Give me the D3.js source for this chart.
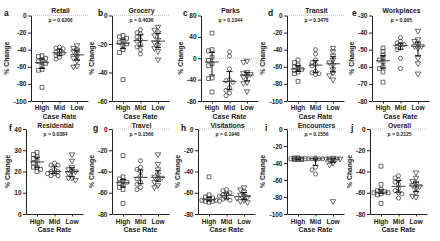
<!DOCTYPE html>
<html><head><meta charset="utf-8">
<script src="https://cdn.jsdelivr.net/npm/d3@7"></script>
<style>
body{margin:0;background:#fff}
svg{display:block;font-family:"Liberation Sans",Arial,sans-serif;font-weight:bold}
</style>
</head><body>
<svg id="chart" width="440" height="241"></svg>
<script>
// ---------------- data ----------------
const categories = ["High", "Mid", "Low"];
const panelLetters = ["a","b","c","d","e","f","g","h","i","j"];
const panelTitles = ["Retail","Grocery","Parks","Transit","Workplaces","Residential","Travel","Visitations","Encounters","Overall"];
const pValues = ["0.0206","0.4036","0.1344","0.3476","0.005","0.0384","0.1566","0.1946","0.1556","0.2125"];
const yDomains = [[-100,0],[-60,0],[-80,80],[-100,0],[-80,-30],[0,40],[-80,0],[-80,0],[-100,0],[-80,0]];
const yTicks = [
  [0,-20,-40,-60,-80,-100],
  [0,-20,-40,-60],
  [80,40,0,-40,-80],
  [0,-20,-40,-60,-80,-100],
  [-30,-40,-50,-60,-70,-80],
  [0,10,20,30,40],
  [0,-20,-40,-60,-80],
  [0,-20,-40,-60,-80],
  [0,-20,-40,-60,-80,-100],
  [0,-20,-40,-60,-80]
];

const retailHigh = [-47,-48,-50,-53,-54,-56,-59,-63,-64,-84];
const retailMid  = [-37,-38,-39,-41,-43,-44,-45,-47,-49,-51];
const retailLow  = [-35,-38,-40,-42,-44,-48,-50,-53,-59,-60];

const groceryHigh = [-14,-15,-16,-18,-19,-20,-21,-24,-26,-45];
const groceryMid  = [-10,-12,-13,-15,-17,-18,-20,-22,-24,-27];
const groceryLow  = [-8,-10,-12,-14,-17,-19,-21,-23,-25,-31];

const parksHigh = [47,16,14,2,-4,-10,-14,-37,-38,-63];
const parksMid  = [12,4,-20,-40,-42,-45,-55,-60,-65,-70];
const parksLow  = [-5,-7,-26,-28,-30,-33,-35,-45,-47,-62];

const transitHigh = [-52,-55,-58,-60,-62,-63,-64,-66,-68,-77];
const transitMid  = [-40,-45,-52,-55,-57,-59,-65,-67,-68,-69];
const transitLow  = [-38,-42,-47,-52,-55,-58,-63,-67,-70,-75];

const workHigh = [-49,-51,-53,-55,-56,-57,-60,-61,-63,-69];
const workMid  = [-43,-45,-46,-47,-47,-48,-49,-50,-55,-61];
const workLow  = [-39,-44,-45,-47,-48,-48,-49,-55,-58,-64];

const residHigh = [29,28,27,26,25,24,22,22,21,20];
const residMid  = [24,23,23,21,20,20,19,19,18,18];
const residLow  = [28,25,22,21,20,20,19,17,17,16];

const travelHigh = [-25,-45,-47,-49,-50,-51,-53,-55,-57,-70];
const travelMid  = [-30,-36,-38,-40,-44,-47,-50,-52,-55,-57];
const travelLow  = [-24,-33,-38,-43,-45,-46,-47,-50,-53,-55];

const visitHigh = [-45,-62,-64,-65,-66,-67,-67,-68,-68,-69];
const visitMid  = [-57,-58,-60,-61,-62,-63,-65,-66,-67,-68];
const visitLow  = [-55,-57,-59,-62,-63,-64,-65,-67,-68,-69];

const encHigh = [-34,-34,-35,-35,-35,-35,-35,-36,-36,-36];
const encMid  = [-34,-35,-35,-35,-35,-35,-36,-45,-48,-53];
const encLow  = [-34,-35,-35,-35,-35,-36,-37,-40,-42,-85];

const overallHigh = [-35,-52,-57,-58,-59,-60,-60,-61,-62,-70];
const overallMid  = [-44,-46,-48,-50,-52,-56,-58,-60,-61,-65];
const overallLow  = [-41,-46,-49,-52,-53,-54,-56,-60,-63,-64];

const panelSeries = [
  [retailHigh, retailMid, retailLow],
  [groceryHigh, groceryMid, groceryLow],
  [parksHigh, parksMid, parksLow],
  [transitHigh, transitMid, transitLow],
  [workHigh, workMid, workLow],
  [residHigh, residMid, residLow],
  [travelHigh, travelMid, travelLow],
  [visitHigh, visitMid, visitLow],
  [encHigh, encMid, encLow],
  [overallHigh, overallMid, overallLow]
];

// ---------------- layout ----------------
const rows = [
  {top:15.5, bottom:101, labY:110, caseY:118.5, titleY:13, pY:21.5, letterY:16},
  {top:129,  bottom:214, labY:223.5, caseY:232, titleY:128, pY:136, letterY:131}
];
const layout = [
  {x:31,row:0,lx:4},{x:112,row:0,lx:98},{x:201,row:0,lx:183},{x:287,row:0,lx:268},{x:372,row:0,lx:352},
  {x:26,row:1,lx:9},{x:112,row:1,lx:93},{x:198,row:1,lx:181},{x:287,row:1,lx:265},{x:370,row:1,lx:351}
];
const plotW = 57;
const ink = "#222";

const svg = d3.select("#chart");

const symbolGens = [
  d3.symbol().type(d3.symbolSquare).size(15),
  d3.symbol().type(d3.symbolCircle).size(13),
  d3.symbol().type(d3.symbolTriangle).size(13)
];

// deterministic GraphPad-like scatter: spread only overlapping points, within a narrow band
function swarm(vals, cx, y) {
  const placed = [];
  const sorted = vals.slice().sort((a,b)=>b-a);
  const offs = [0,-3.5,3.5,-7,7];
  sorted.forEach(v => {
    const py = y(v);
    let best = offs[0], bestD = -1;
    for (const o of offs) {
      const d = placed.length ? d3.min(placed, q => Math.hypot(q.x-(cx+o), q.y-py)) : 99;
      if (d >= 3.4) { best = o; bestD = 99; break; }
      if (d > bestD) { bestD = d; best = o; }
    }
    placed.push({x:cx+best, y:py});
  });
  return placed;
}

panelSeries.forEach((series, i) => {
  const L = layout[i], R = rows[L.row];
  const y = d3.scaleLinear().domain(yDomains[i]).range([R.bottom, R.top]);
  const x = d3.scalePoint().domain(categories).range([L.x, L.x+plotW]).padding(0.63);
  const g = svg.append("g");

  // zero reference line
  const dom = yDomains[i];
  if (dom[0] < 0 && dom[1] >= 0) {
    g.append("line").attr("x1", L.x).attr("x2", L.x+plotW)
      .attr("y1", y(0)).attr("y2", y(0))
      .attr("stroke", "#aaa").attr("stroke-width", 0.7).attr("stroke-dasharray", "1,1");
  }

  // y axis
  const ya = g.append("g").attr("transform", `translate(${L.x},0)`)
    .call(d3.axisLeft(y).tickValues(yTicks[i]).tickSize(3).tickSizeOuter(0).tickPadding(1.5).tickFormat(d => String(d)));
  ya.selectAll("text").attr("font-size", 6.5).attr("fill", ink).attr("font-weight", "bold");
  ya.selectAll("line,path").attr("stroke", ink).attr("stroke-width", 1);

  // x axis
  const xa = g.append("g").attr("transform", `translate(0,${R.bottom})`)
    .call(d3.axisBottom(x).tickSize(2.5).tickSizeOuter(0).tickPadding(2));
  xa.selectAll("text").remove();
  xa.selectAll("line,path").attr("stroke", ink).attr("stroke-width", 1);

  g.selectAll(".cat").data(categories).join("text")
    .attr("x", d => x(d)).attr("y", R.labY)
    .attr("text-anchor", "middle").attr("font-size", 6.6).attr("fill", ink).text(d => d);

  g.append("text").attr("x", L.x + plotW/2).attr("y", R.caseY)
    .attr("text-anchor", "middle").attr("font-size", 7).attr("fill", ink).text("Case Rate");

  // y label
  let maxW = 0;
  ya.selectAll("text").each(function(){ maxW = Math.max(maxW, this.getComputedTextLength()); });
  const ly = (R.top + R.bottom)/2;
  const lx = L.x - 3 - 1.5 - maxW - 4;
  g.append("text").attr("transform", `translate(${lx},${ly}) rotate(-90)`)
    .attr("text-anchor", "middle").attr("font-size", 6.8).attr("fill", ink).text("% Change");

  // letter, title, p
  g.append("text").attr("x", L.lx).attr("y", R.letterY).attr("font-size", 8.5).attr("fill", "#111").text(panelLetters[i]);
  g.append("text").attr("x", L.x + plotW/2 + 1).attr("y", R.titleY)
    .attr("text-anchor", "middle").attr("font-size", 6.8).attr("fill", ink).text(panelTitles[i]);
  g.append("text").attr("x", L.x + plotW/2 + 1).attr("y", R.pY)
    .attr("text-anchor", "middle").attr("font-size", 5).attr("fill", ink).text("p = " + pValues[i]);

  // points + median/IQR
  series.forEach((vals, k) => {
    const cx = x(categories[k]);
    const pts = swarm(vals, cx, y);
    g.append("g").selectAll("path").data(pts).join("path")
      .attr("d", symbolGens[k]())
      .attr("transform", d => `translate(${d.x},${d.y})` + (k === 2 ? " rotate(180)" : ""))
      .attr("fill", "none").attr("stroke", "#3a3a3a").attr("stroke-width", 0.75);

    const s = vals.slice().sort(d3.ascending);
    const med = d3.quantile(s, 0.5), q1 = d3.quantile(s, 0.25), q3 = d3.quantile(s, 0.75);
    g.append("line").attr("x1", cx).attr("x2", cx).attr("y1", y(q1)).attr("y2", y(q3))
      .attr("stroke", "#111").attr("stroke-width", 1);
    [q1, q3].forEach(q => g.append("line").attr("x1", cx-3).attr("x2", cx+3).attr("y1", y(q)).attr("y2", y(q))
      .attr("stroke", "#111").attr("stroke-width", 1));
    g.append("line").attr("x1", cx-7).attr("x2", cx+7).attr("y1", y(med)).attr("y2", y(med))
      .attr("stroke", "#444").attr("stroke-width", 1);
  });
});
</script>
</body></html>
